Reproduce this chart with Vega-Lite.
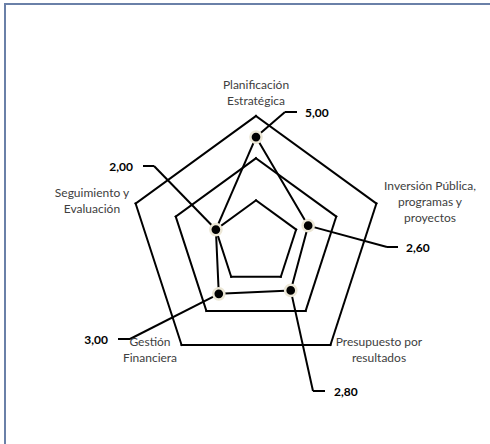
{
  "$schema": "https://vega.github.io/schema/vega-lite/v6.json",
  "width": 490,
  "height": 445,
  "autosize": {"type": "none"},
  "padding": {"left": 5, "top": 4, "right": 0, "bottom": 0},
  "background": "white",
  "config": {"view": {"stroke": "#6a80a8", "strokeWidth": 2}},
  "data": {"values": [
    {"cat": "Planificación Estratégica", "idx": 0, "value": 5.0},
    {"cat": "Inversión Pública, programas y proyectos", "idx": 1, "value": 2.6},
    {"cat": "Presupuesto por resultados", "idx": 2, "value": 2.8},
    {"cat": "Gestión Financiera", "idx": 3, "value": 3.0},
    {"cat": "Seguimiento y Evaluación", "idx": 4, "value": 2.0}
  ]},
  "layer": [
    {
      "transform": [
        {"calculate": "[2,4,6]", "as": "lv"},
        {"flatten": ["lv"]},
        {"calculate": "datum.lv*sin(datum.idx*2*PI/5)", "as": "x"},
        {"calculate": "datum.lv*cos(datum.idx*2*PI/5)", "as": "y"},
        {"calculate": "datum.lv*sin((datum.idx+1)*2*PI/5)", "as": "x2"},
        {"calculate": "datum.lv*cos((datum.idx+1)*2*PI/5)", "as": "y2"}
      ],
      "mark": {"type": "rule", "color": "black", "strokeWidth": 2, "strokeCap": "square"},
      "encoding": {
        "x": {"field": "x", "type": "quantitative", "scale": {"domain": [-11.8957, 11.327], "nice": false, "zero": false}, "axis": null},
        "y": {"field": "y", "type": "quantitative", "scale": {"domain": [-9.782, 11.3081], "nice": false, "zero": false}, "axis": null},
        "x2": {"field": "x2"},
        "y2": {"field": "y2"}
      }
    },
    {
      "transform": [
        {"window": [{"op": "lead", "field": "value", "as": "nv"}, {"op": "first_value", "field": "value", "as": "fv"}], "sort": [{"field": "idx"}], "frame": [null, null]},
        {"calculate": "datum.nv == null ? datum.fv : datum.nv", "as": "nv2"},
        {"calculate": "datum.value*sin(datum.idx*2*PI/5)", "as": "x"},
        {"calculate": "datum.value*cos(datum.idx*2*PI/5)", "as": "y"},
        {"calculate": "datum.nv2*sin((datum.idx+1)*2*PI/5)", "as": "x2"},
        {"calculate": "datum.nv2*cos((datum.idx+1)*2*PI/5)", "as": "y2"}
      ],
      "mark": {"type": "rule", "color": "black", "strokeWidth": 2, "strokeCap": "round"},
      "encoding": {
        "x": {"field": "x", "type": "quantitative", "scale": {"domain": [-11.8957, 11.327], "nice": false, "zero": false}, "axis": null},
        "y": {"field": "y", "type": "quantitative", "scale": {"domain": [-9.782, 11.3081], "nice": false, "zero": false}, "axis": null},
        "x2": {"field": "x2"},
        "y2": {"field": "y2"}
      }
    },
    {"data": {"values": [{}]}, "mark": {"type": "rule", "color": "black", "strokeWidth": 2},
     "encoding": {"x": {"datum": 0, "type": "quantitative", "scale": {"domain": [-11.8957, 11.327], "nice": false, "zero": false}, "axis": null}, "y": {"datum": 5, "type": "quantitative", "scale": {"domain": [-9.782, 11.3081], "nice": false, "zero": false}, "axis": null}, "x2": {"datum": 1.374}, "y2": {"datum": 6.19}}},
    {"data": {"values": [{}]}, "mark": {"type": "rule", "color": "black", "strokeWidth": 2},
     "encoding": {"x": {"datum": 1.374, "type": "quantitative", "scale": {"domain": [-11.8957, 11.327], "nice": false, "zero": false}, "axis": null}, "y": {"datum": 6.19, "type": "quantitative", "scale": {"domain": [-9.782, 11.3081], "nice": false, "zero": false}, "axis": null}, "x2": {"datum": 1.943}, "y2": {"datum": 6.19}}},
    {"data": {"values": [{}]}, "mark": {"type": "rule", "color": "black", "strokeWidth": 2},
     "encoding": {"x": {"datum": 2.473, "type": "quantitative", "scale": {"domain": [-11.8957, 11.327], "nice": false, "zero": false}, "axis": null}, "y": {"datum": 0.803, "type": "quantitative", "scale": {"domain": [-9.782, 11.3081], "nice": false, "zero": false}, "axis": null}, "x2": {"datum": 6.209}, "y2": {"datum": -0.2085}}},
    {"data": {"values": [{}]}, "mark": {"type": "rule", "color": "black", "strokeWidth": 2},
     "encoding": {"x": {"datum": 6.209, "type": "quantitative", "scale": {"domain": [-11.8957, 11.327], "nice": false, "zero": false}, "axis": null}, "y": {"datum": -0.2085, "type": "quantitative", "scale": {"domain": [-9.782, 11.3081], "nice": false, "zero": false}, "axis": null}, "x2": {"datum": 6.73}, "y2": {"datum": -0.2085}}},
    {"data": {"values": [{}]}, "mark": {"type": "rule", "color": "black", "strokeWidth": 2},
     "encoding": {"x": {"datum": 1.646, "type": "quantitative", "scale": {"domain": [-11.8957, 11.327], "nice": false, "zero": false}, "axis": null}, "y": {"datum": -2.265, "type": "quantitative", "scale": {"domain": [-9.782, 11.3081], "nice": false, "zero": false}, "axis": null}, "x2": {"datum": 2.701}, "y2": {"datum": -7.033}}},
    {"data": {"values": [{}]}, "mark": {"type": "rule", "color": "black", "strokeWidth": 2},
     "encoding": {"x": {"datum": 2.701, "type": "quantitative", "scale": {"domain": [-11.8957, 11.327], "nice": false, "zero": false}, "axis": null}, "y": {"datum": -7.033, "type": "quantitative", "scale": {"domain": [-9.782, 11.3081], "nice": false, "zero": false}, "axis": null}, "x2": {"datum": 3.27}, "y2": {"datum": -7.033}}},
    {"data": {"values": [{}]}, "mark": {"type": "rule", "color": "black", "strokeWidth": 2},
     "encoding": {"x": {"datum": -1.763, "type": "quantitative", "scale": {"domain": [-11.8957, 11.327], "nice": false, "zero": false}, "axis": null}, "y": {"datum": -2.427, "type": "quantitative", "scale": {"domain": [-9.782, 11.3081], "nice": false, "zero": false}, "axis": null}, "x2": {"datum": -5.972}, "y2": {"datum": -4.569}}},
    {"data": {"values": [{}]}, "mark": {"type": "rule", "color": "black", "strokeWidth": 2},
     "encoding": {"x": {"datum": -5.972, "type": "quantitative", "scale": {"domain": [-11.8957, 11.327], "nice": false, "zero": false}, "axis": null}, "y": {"datum": -4.569, "type": "quantitative", "scale": {"domain": [-9.782, 11.3081], "nice": false, "zero": false}, "axis": null}, "x2": {"datum": -6.54}, "y2": {"datum": -4.569}}},
    {"data": {"values": [{}]}, "mark": {"type": "rule", "color": "black", "strokeWidth": 2},
     "encoding": {"x": {"datum": -1.902, "type": "quantitative", "scale": {"domain": [-11.8957, 11.327], "nice": false, "zero": false}, "axis": null}, "y": {"datum": 0.618, "type": "quantitative", "scale": {"domain": [-9.782, 11.3081], "nice": false, "zero": false}, "axis": null}, "x2": {"datum": -4.834}, "y2": {"datum": 3.63}}},
    {"data": {"values": [{}]}, "mark": {"type": "rule", "color": "black", "strokeWidth": 2},
     "encoding": {"x": {"datum": -4.834, "type": "quantitative", "scale": {"domain": [-11.8957, 11.327], "nice": false, "zero": false}, "axis": null}, "y": {"datum": 3.63, "type": "quantitative", "scale": {"domain": [-9.782, 11.3081], "nice": false, "zero": false}, "axis": null}, "x2": {"datum": -5.355}, "y2": {"datum": 3.63}}},
    {
      "transform": [
        {"calculate": "datum.value*sin(datum.idx*2*PI/5)", "as": "x"},
        {"calculate": "datum.value*cos(datum.idx*2*PI/5)", "as": "y"}
      ],
      "mark": {"type": "point", "shape": "circle", "filled": true, "fill": "black", "size": 125, "stroke": "#ece7d6", "strokeWidth": 2.5, "strokeOpacity": 1, "fillOpacity": 1, "opacity": 1},
      "encoding": {
        "x": {"field": "x", "type": "quantitative", "scale": {"domain": [-11.8957, 11.327], "nice": false, "zero": false}, "axis": null},
        "y": {"field": "y", "type": "quantitative", "scale": {"domain": [-9.782, 11.3081], "nice": false, "zero": false}, "axis": null}
      }
    },
    {"data": {"values": [{}]}, "mark": {"type": "text", "text": "5,00", "font": "Lato", "fontSize": 12, "fontWeight": "bold", "color": "black", "align": "left", "baseline": "middle"},
     "encoding": {"x": {"datum": 2.322, "type": "quantitative", "scale": {"domain": [-11.8957, 11.327], "nice": false, "zero": false}, "axis": null}, "y": {"datum": 6.142, "type": "quantitative", "scale": {"domain": [-9.782, 11.3081], "nice": false, "zero": false}, "axis": null}}},
    {"data": {"values": [{}]}, "mark": {"type": "text", "text": "2,60", "font": "Lato", "fontSize": 12, "fontWeight": "bold", "color": "black", "align": "left", "baseline": "middle"},
     "encoding": {"x": {"datum": 7.109, "type": "quantitative", "scale": {"domain": [-11.8957, 11.327], "nice": false, "zero": false}, "axis": null}, "y": {"datum": -0.256, "type": "quantitative", "scale": {"domain": [-9.782, 11.3081], "nice": false, "zero": false}, "axis": null}}},
    {"data": {"values": [{}]}, "mark": {"type": "text", "text": "2,80", "font": "Lato", "fontSize": 12, "fontWeight": "bold", "color": "black", "align": "left", "baseline": "middle"},
     "encoding": {"x": {"datum": 3.697, "type": "quantitative", "scale": {"domain": [-11.8957, 11.327], "nice": false, "zero": false}, "axis": null}, "y": {"datum": -7.081, "type": "quantitative", "scale": {"domain": [-9.782, 11.3081], "nice": false, "zero": false}, "axis": null}}},
    {"data": {"values": [{}]}, "mark": {"type": "text", "text": "3,00", "font": "Lato", "fontSize": 12, "fontWeight": "bold", "color": "black", "align": "right", "baseline": "middle"},
     "encoding": {"x": {"datum": -7.014, "type": "quantitative", "scale": {"domain": [-11.8957, 11.327], "nice": false, "zero": false}, "axis": null}, "y": {"datum": -4.616, "type": "quantitative", "scale": {"domain": [-9.782, 11.3081], "nice": false, "zero": false}, "axis": null}}},
    {"data": {"values": [{}]}, "mark": {"type": "text", "text": "2,00", "font": "Lato", "fontSize": 12, "fontWeight": "bold", "color": "black", "align": "right", "baseline": "middle"},
     "encoding": {"x": {"datum": -5.829, "type": "quantitative", "scale": {"domain": [-11.8957, 11.327], "nice": false, "zero": false}, "axis": null}, "y": {"datum": 3.583, "type": "quantitative", "scale": {"domain": [-9.782, 11.3081], "nice": false, "zero": false}, "axis": null}}},
    {"data": {"values": [{}]}, "mark": {"type": "text", "text": ["Planificación", "Estratégica"], "font": "Lato", "fontSize": 12, "lineHeight": 16, "color": "#404040", "align": "center", "baseline": "middle"},
     "encoding": {"x": {"datum": 0, "type": "quantitative", "scale": {"domain": [-11.8957, 11.327], "nice": false, "zero": false}, "axis": null}, "y": {"datum": 7.469, "type": "quantitative", "scale": {"domain": [-9.782, 11.3081], "nice": false, "zero": false}, "axis": null}}},
    {"data": {"values": [{}]}, "mark": {"type": "text", "text": ["Inversión Pública,", "programas y", "proyectos"], "font": "Lato", "fontSize": 12, "lineHeight": 16, "color": "#404040", "align": "center", "baseline": "middle"},
     "encoding": {"x": {"datum": 8.246, "type": "quantitative", "scale": {"domain": [-11.8957, 11.327], "nice": false, "zero": false}, "axis": null}, "y": {"datum": 2.682, "type": "quantitative", "scale": {"domain": [-9.782, 11.3081], "nice": false, "zero": false}, "axis": null}}},
    {"data": {"values": [{}]}, "mark": {"type": "text", "text": ["Presupuesto por", "resultados"], "font": "Lato", "fontSize": 12, "lineHeight": 16, "color": "#404040", "align": "center", "baseline": "middle"},
     "encoding": {"x": {"datum": 5.829, "type": "quantitative", "scale": {"domain": [-11.8957, 11.327], "nice": false, "zero": false}, "axis": null}, "y": {"datum": -4.711, "type": "quantitative", "scale": {"domain": [-9.782, 11.3081], "nice": false, "zero": false}, "axis": null}}},
    {"data": {"values": [{}]}, "mark": {"type": "text", "text": ["Gestión", "Financiera"], "font": "Lato", "fontSize": 12, "lineHeight": 16, "color": "#404040", "align": "center", "baseline": "middle"},
     "encoding": {"x": {"datum": -5.024, "type": "quantitative", "scale": {"domain": [-11.8957, 11.327], "nice": false, "zero": false}, "axis": null}, "y": {"datum": -4.711, "type": "quantitative", "scale": {"domain": [-9.782, 11.3081], "nice": false, "zero": false}, "axis": null}}},
    {"data": {"values": [{}]}, "mark": {"type": "text", "text": ["Seguimiento y", "Evaluación"], "font": "Lato", "fontSize": 12, "lineHeight": 16, "color": "#404040", "align": "center", "baseline": "middle"},
     "encoding": {"x": {"datum": -7.773, "type": "quantitative", "scale": {"domain": [-11.8957, 11.327], "nice": false, "zero": false}, "axis": null}, "y": {"datum": 2.351, "type": "quantitative", "scale": {"domain": [-9.782, 11.3081], "nice": false, "zero": false}, "axis": null}}}
  ]
}
